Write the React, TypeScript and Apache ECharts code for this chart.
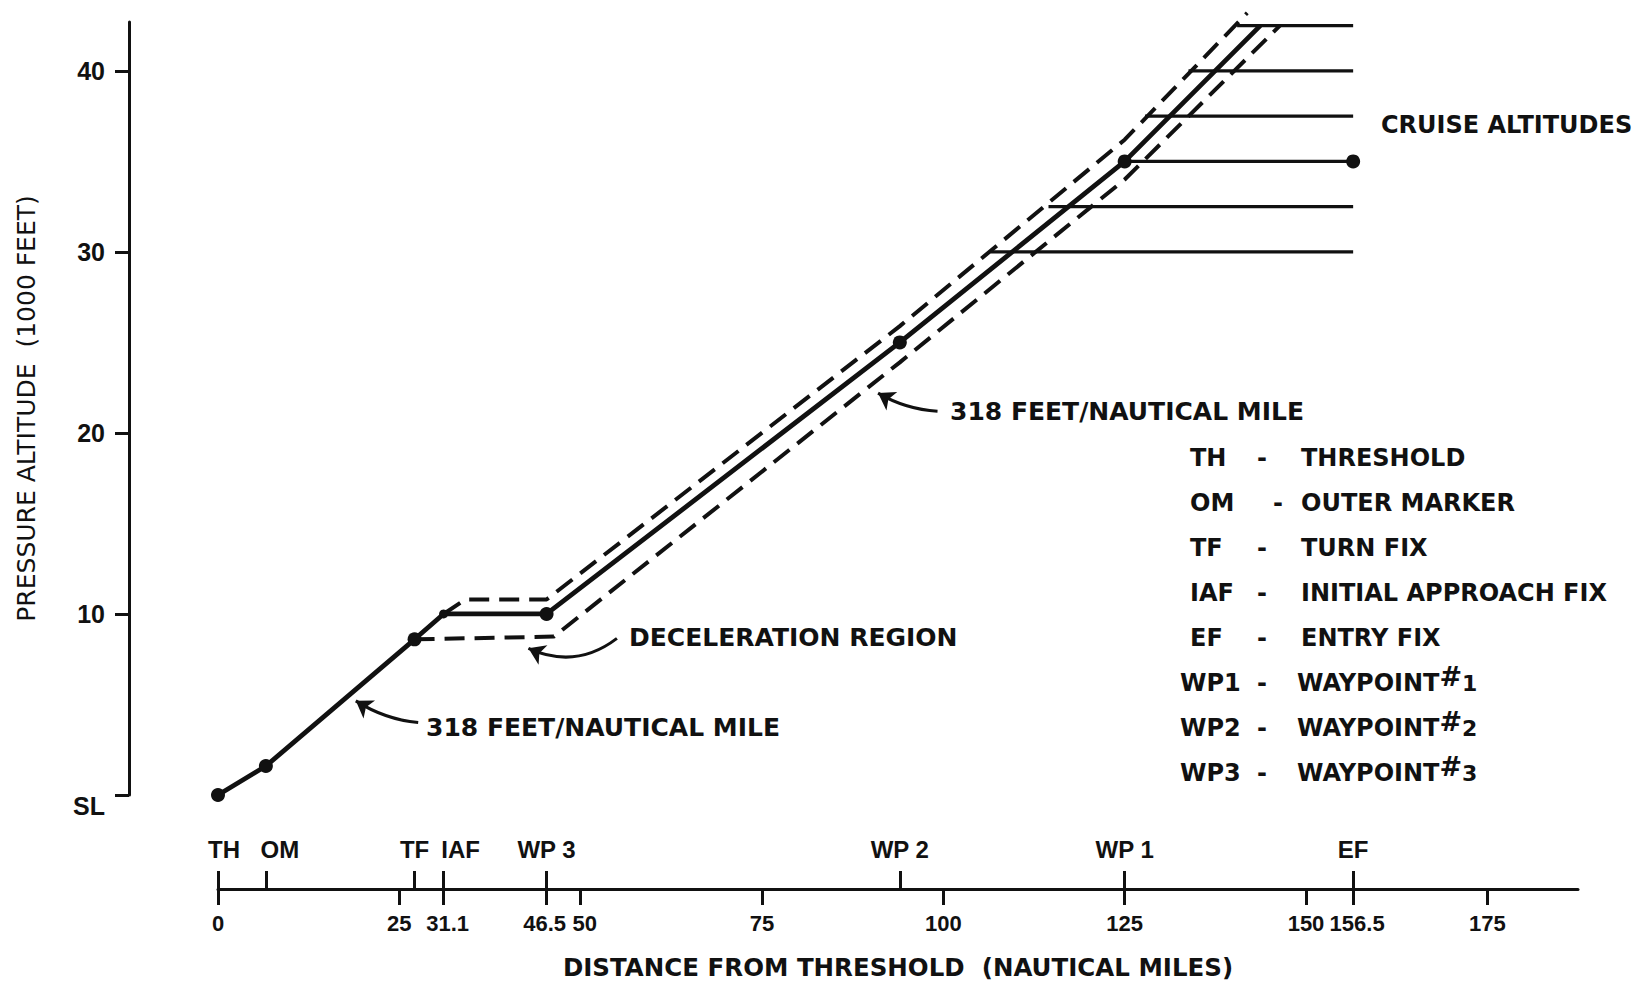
import React, { useEffect, useRef } from "react";
import * as echarts from "echarts";

// ---- data ----
const yTickValues = [0, 10, 20, 30, 40];
const yTickLabels = ["SL", "10", "20", "30", "40"];

const distTickValues = [0, 25, 31.1, 45.3, 50, 75, 100, 125, 150, 156.5, 175];
const distTickLabels = ["0", "25", "31.1", "46.5", "50", "75", "100", "125", "150", "156.5", "175"];

const fixNames = ["TH", "OM", "TF", "IAF", "WP 3", "WP 2", "WP 1", "EF"];
const fixDist = [0, 6.6, 27.1, 31.1, 45.3, 94, 125, 156.5];

const pathDist = [0, 6.6, 27.1, 31.1, 45.3, 94, 125, 143.7];
const pathAlt = [0, 1.6, 8.6, 10, 10, 25, 35, 42.5];

const markerDist = [0, 6.6, 27.1, 45.3, 94, 125, 156.5];
const markerAlt = [0, 1.6, 8.6, 10, 25, 35, 35];
const iafMarker = [31.1, 10];

const upperDist = [31.1, 34.1, 45.3, 94, 125, 141.9];
const upperAlt = [10, 10.8, 10.8, 25.9, 36.2, 43.2];
const lowerDist = [27.1, 46.3, 94, 125, 146.4];
const lowerAlt = [8.6, 8.75, 23.9, 34, 42.5];

const cruiseAlt = [42.5, 40, 37.5, 35, 32.5, 30];
const cruiseStart = [140.5, 133.8, 127.8, 125, 114.5, 106.5];
const cruiseEnd = 156.5;

const legendAbbr = ["TH", "OM", "TF", "IAF", "EF", "WP1", "WP2", "WP3"];
const legendDesc = ["THRESHOLD", "OUTER MARKER", "TURN FIX", "INITIAL APPROACH FIX", "ENTRY FIX", "WAYPOINT#1", "WAYPOINT#2", "WAYPOINT#3"];

const INK = "#111";
const BOLD = '"DejaVu Sans", "Liberation Sans", sans-serif';
const ARIAL = '"Liberation Sans", Arial, sans-serif';

const zip = (a: number[], b: number[]) => a.map((v, i) => [v, b[i]]);

export default function App() {
  const ref = useRef<HTMLDivElement>(null);
  useEffect(() => {
    document.body.style.margin = "0";
    const chart = echarts.init(ref.current!, null, { renderer: "svg" });

    const cruiseSeries = cruiseAlt.map((alt, i) => ({
      type: "line",
      data: [[cruiseStart[i], alt], [cruiseEnd, alt]],
      symbol: "none",
      clip: false,
      lineStyle: { color: INK, width: 3.2 },
      z: 3,
    }));

    const legendGraphics: any[] = [];
    legendAbbr.forEach((ab, i) => {
      const y = 458 + i * 45;
      const isWp = ab.startsWith("WP");
      legendGraphics.push({
        type: "text",
        style: { text: ab, x: isWp ? 1180 : 1190, y, fill: INK, font: `bold 24px ${BOLD}`, verticalAlign: "middle", align: "left" },
      });
      legendGraphics.push({
        type: "text",
        style: { text: "-", x: ab === "OM" ? 1278 : 1262, y, fill: INK, font: `bold 24px ${BOLD}`, verticalAlign: "middle", align: "center" },
      });
      const d = legendDesc[i];
      const hashIdx = d.indexOf("#");
      const txt = hashIdx >= 0 ? `${d.slice(0, hashIdx)}{h|#}{n|${d.slice(hashIdx + 1)}}` : d;
      legendGraphics.push({
        type: "text",
        style: {
          text: txt,
          x: isWp ? 1297 : 1301,
          y,
          fill: INK,
          font: `bold 24px ${BOLD}`,
          verticalAlign: "middle",
          align: "left",
          rich: {
            h: { font: `bold 27px ${BOLD}`, fill: INK, padding: [0, 0, 14, 0] },
            n: { font: `bold 22px ${BOLD}`, fill: INK },
          },
        },
      });
    });

    const annot = (text: string, x: number, y: number, size = 25) => ({
      type: "text",
      style: { text, x, y, fill: INK, font: `bold ${size}px ${BOLD}`, verticalAlign: "middle", align: "left" },
    });

    const labelFont = { color: INK, fontFamily: ARIAL, fontWeight: "bold" as const, fontSize: 22 };

    const option: any = {
      animation: false,
      backgroundColor: "#fff",
      grid: { left: 218, top: 22, width: 1360, height: 773 },
      xAxis: [
        {
          type: "value",
          min: 0,
          max: 187.5,
          position: "bottom",
          offset: 94,
          splitLine: { show: false },
          axisLine: { show: true, onZero: false, lineStyle: { color: INK, width: 3 } },
          axisTick: { show: true, customValues: distTickValues, length: 16, lineStyle: { color: INK, width: 3 } },
          axisLabel: {
            customValues: distTickValues,
            formatter: (v: number) => {
              const i = distTickValues.findIndex((t) => Math.abs(t - v) < 1e-6);
              if (i < 0) return "";
              const s = distTickLabels[i];
              if (s === "156.5" || s === "31.1" || s === "50") return `{r|${s}}`;
              if (s === "46.5") return `{l|${s}}`;
              return s;
            },
            rich: {
              r: { ...labelFont, padding: [0, 0, 0, 8] },
              l: { ...labelFont, padding: [0, 4, 0, 0] },
            },
            margin: 23,
            ...labelFont,
          },
          name: "DISTANCE FROM THRESHOLD  (NAUTICAL MILES)",
          nameLocation: "middle",
          nameGap: 66,
          nameTextStyle: { color: INK, fontFamily: BOLD, fontWeight: "bold", fontSize: 24.5 },
        },
        {
          type: "value",
          min: 0,
          max: 187.5,
          position: "bottom",
          offset: 94,
          splitLine: { show: false },
          axisLine: { show: false, onZero: false },
          axisTick: { show: true, inside: true, customValues: fixDist, length: 18, lineStyle: { color: INK, width: 3 } },
          axisLabel: {
            inside: true,
            customValues: fixDist,
            formatter: (v: number) => {
              const i = fixDist.findIndex((t) => Math.abs(t - v) < 1e-6);
              if (i < 0) return "";
              if (fixNames[i] === "IAF") return "{s|IAF}";
              if (fixNames[i] === "OM") return "{o|OM}";
              if (fixNames[i] === "TH") return "{t|TH}";
              return fixNames[i];
            },
            rich: {
              s: { padding: [0, 0, 0, 34], color: INK, fontFamily: ARIAL, fontWeight: "bold", fontSize: 24 },
              o: { padding: [0, 0, 0, 28], color: INK, fontFamily: ARIAL, fontWeight: "bold", fontSize: 24 },
              t: { padding: [0, 0, 0, 12], color: INK, fontFamily: ARIAL, fontWeight: "bold", fontSize: 24 },
            },
            margin: 28,
            color: INK,
            fontFamily: ARIAL,
            fontWeight: "bold",
            fontSize: 24,
          },
        },
      ],
      yAxis: {
        type: "value",
        min: 0,
        max: 42.7,
        offset: 89,
        splitLine: { show: false },
        axisLine: { show: true, onZero: false, lineStyle: { color: INK, width: 3 } },
        axisTick: { show: true, customValues: yTickValues, length: 14, lineStyle: { color: INK, width: 3 } },
        axisLabel: {
          customValues: yTickValues,
          formatter: (v: number) => {
            const i = yTickValues.indexOf(v);
            if (i === 0) return "{sl|SL}";
            return i >= 0 ? yTickLabels[i] : "";
          },
          rich: { sl: { padding: [22, 0, 0, 0], color: INK, fontFamily: ARIAL, fontWeight: "bold", fontSize: 25 } },
          margin: 24,
          color: INK,
          fontFamily: ARIAL,
          fontWeight: "bold",
          fontSize: 25,
        },
        name: "PRESSURE ALTITUDE  (1000 FEET)",
        nameLocation: "middle",
        nameGap: 90,
        nameTextStyle: { color: INK, fontFamily: '"DejaVu Sans", sans-serif', fontSize: 25 },
      },
      series: [
        {
          type: "line",
          data: zip(pathDist, pathAlt),
          symbol: "none",
          clip: false,
          lineStyle: { color: INK, width: 4.8 },
          z: 4,
        },
        {
          type: "line",
          data: zip(upperDist, upperAlt),
          symbol: "none",
          clip: false,
          lineStyle: { color: INK, width: 4, type: [20, 10] },
          z: 3,
        },
        {
          type: "line",
          data: zip(lowerDist, lowerAlt),
          symbol: "none",
          clip: false,
          lineStyle: { color: INK, width: 4, type: [20, 10] },
          z: 3,
        },
        ...cruiseSeries,
        {
          type: "scatter",
          data: zip(markerDist, markerAlt),
          symbol: "circle",
          symbolSize: 14,
          itemStyle: { color: INK, opacity: 1 },
          clip: false,
          z: 5,
        },
        {
          type: "scatter",
          data: [iafMarker],
          symbol: "circle",
          symbolSize: 9,
          itemStyle: { color: INK, opacity: 1 },
          z: 5,
        },
        {
          type: "lines",
          coordinateSystem: "cartesian2d",
          symbol: ["none", "arrow"],
          symbolSize: 16,
          lineStyle: { color: INK, width: 3, curveness: 0.12, opacity: 1 },
          data: [
            { coords: [[27.6, 4.0], [19.0, 5.2]] },
            { coords: [[55.0, 8.65], [42.8, 8.1]], lineStyle: { curveness: 0.3 } },
            { coords: [[99.2, 21.2], [91.0, 22.2]] },
          ],
          z: 4,
        },
      ],
      graphic: [
        annot("CRUISE ALTITUDES", 1381, 125, 24),
        annot("318 FEET/NAUTICAL MILE", 950, 411),
        annot("DECELERATION REGION", 629, 637),
        annot("318 FEET/NAUTICAL MILE", 426, 727),
        ...legendGraphics,
      ],
    };

    chart.setOption(option);
    return () => chart.dispose();
  }, []);

  return <div ref={ref} style={{ width: 1640, height: 988 }} />;
}
